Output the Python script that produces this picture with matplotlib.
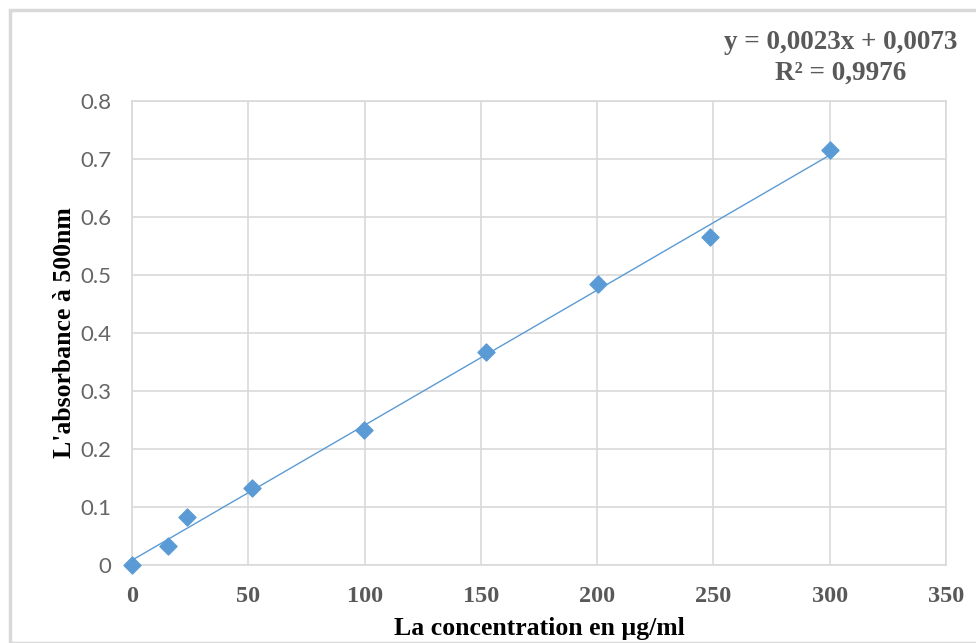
import matplotlib
matplotlib.use("Agg")
import matplotlib.pyplot as plt
import numpy as np
from matplotlib.patches import Rectangle

conc = [0, 15.5, 23.6, 51.6, 99.7, 152.2, 200.3, 248.5, 300]
absorb = [0.0, 0.033, 0.083, 0.133, 0.233, 0.367, 0.484, 0.566, 0.716]
xticks = [0, 50, 100, 150, 200, 250, 300, 350]
yticks = [0, 0.1, 0.2, 0.3, 0.4, 0.5, 0.6, 0.7, 0.8]
ytick_labels = ["0", "0.1", "0.2", "0.3", "0.4", "0.5", "0.6", "0.7", "0.8"]
equation = "y = 0,0023x + 0,0073\nR² = 0,9976"
xlabel = "La concentration en µg/ml"
ylabel = "L'absorbance à 500nm"

fig = plt.figure(figsize=(9.76, 6.43), dpi=100)
fig.patches.append(Rectangle((10/976, 0), 1.2, 1 - 10/643, transform=fig.transFigure,
                             fill=False, edgecolor="#d9d9d9", linewidth=2.5))
ax = fig.add_axes([132/976, 1 - 565/643, (946-132)/976, (565-101)/643])

ax.set_xlim(0, 350)
ax.set_ylim(0, 0.8)
ax.set_xticks(xticks)
ax.set_yticks(yticks)
ax.set_yticklabels(ytick_labels)
ax.grid(True, color="#d9d9d9", linewidth=1.2)
ax.set_axisbelow(True)
for s in ax.spines.values():
    s.set_color("#d9d9d9")
    s.set_linewidth(1.2)
ax.tick_params(length=0)
ax.tick_params(axis="y", pad=15, labelsize=16, labelcolor="#666666")
ax.tick_params(axis="x", pad=15, labelsize=17.5, labelcolor="#595959")
for lab in ax.get_yticklabels():
    lab.set_fontfamily("Lato")
for lab in ax.get_xticklabels():
    lab.set_fontfamily("Liberation Serif")
    lab.set_fontweight("bold")

coef = np.polyfit(conc, absorb, 1)
xs = np.array([0, 300])
ax.plot(xs, np.polyval(coef, xs), color="#5b9bd5", linewidth=1.0, zorder=2)
ax.scatter(conc, absorb, marker="D", s=75, color="#5b9bd5", zorder=3, clip_on=False)

ax.set_xlabel(xlabel, fontfamily="Liberation Serif", fontweight="bold", fontsize=18.5, labelpad=7)
ax.set_ylabel(ylabel, fontfamily="Liberation Serif", fontweight="bold", fontsize=18.5, labelpad=3)

fig.text(841/976, 1 - 58/643, equation, ha="center", va="center", fontfamily="Liberation Serif",
         fontweight="bold", fontsize=19.5, color="#595959", linespacing=1.3)

fig.savefig("out.png", dpi=100)
